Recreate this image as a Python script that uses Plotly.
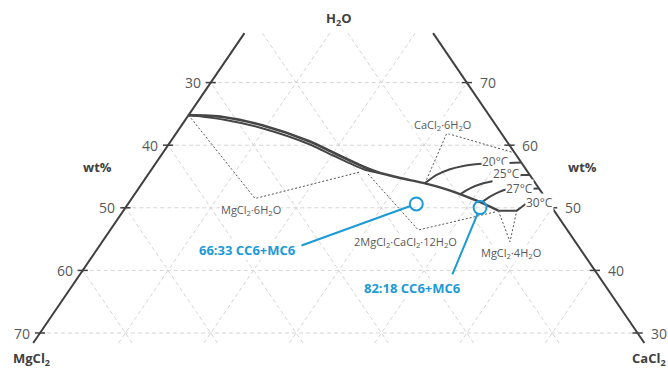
import plotly.graph_objects as go

# ---------------------------------------------------------------------------
# Phase diagram H2O - MgCl2 - CaCl2 (wt%).  Every point is a composition given
# as (H2O wt%, CaCl2 wt%); MgCl2 = 100 - H2O - CaCl2.
# ---------------------------------------------------------------------------
left_tick_values = [30, 40, 50, 60, 70]    # MgCl2 wt% along the MgCl2-H2O side
right_tick_values = [70, 60, 50, 40, 30]   # H2O wt% along the CaCl2-H2O side
grid_values = [10, 20, 30, 40, 50, 60]
h2o_window = [28.4, 77.9]                  # visible slice of the triangle

# MgCl2·6H2O saturation branch (two almost coincident isotherms)
mc6_upper_h2o = [64.8, 64.5, 63.15, 60.59, 58.83, 56.6, 55.56]
mc6_upper_cacl2 = [0.0, 4.19, 9.56, 16.33, 19.91, 24.54, 27.05]
mc6_lower_h2o = [64.8, 64.1, 62.67, 60.11, 58.35, 56.2, 55.56]
mc6_lower_cacl2 = [0.0, 4.39, 9.79, 16.58, 20.16, 24.74, 27.05]

# tachyhydrite branch down to the MgCl2·4H2O step
tach_h2o = [55.56, 54.76, 53.91, 53.11, 52.2, 51.13, 50.18, 49.54]
tach_cacl2 = [27.05, 29.8, 33.14, 35.69, 38.1, 40.59, 42.63, 43.92]
step_h2o = [49.54, 49.54, 50.13, 50.61]
step_cacl2 = [43.92, 46.08, 46.36, 46.58]

# CaCl2·6H2O isotherms: arc from the branch, then a short run to the CaCl2 side
iso_names = ["20°C", "25°C", "27°C", "30°C"]
iso_arc_h2o = [[53.91, 55.24, 56.15, 56.68, 57.0],
               [52.16, 53.11, 53.91, 54.33],
               [50.85, 51.77, 52.57, 52.95],
               []]
iso_arc_cacl2 = [[33.14, 33.85, 34.95, 36.25, 37.81],
                 [38.12, 38.82, 39.97, 41.13],
                 [41.33, 41.83, 42.6, 43.2],
                 []]
iso_tail_h2o = [57.24, 55.24, 53.08, None]
iso_tail_cacl2 = [41.44, 43.81, 46.16, None]
iso_label_h2o = [57.45, 55.42, 53.08, 50.85]
iso_label_cacl2 = [39.6, 41.97, 44.58, 48.04]

# dotted outlines of the crystallisation fields
field_outlines = [
    ([64.8, 51.48, 55.72], [0.0, 14.45, 24.63]),      # MgCl2·6H2O
    ([55.4, 46.45, 49.33], [25.73, 36.09, 43.64]),    # tachyhydrite
    ([53.91, 61.9, 58.75], [33.14, 31.7, 41.25]),     # CaCl2·6H2O
    ([49.54, 44.58, 49.54], [43.92, 47.77, 46.08]),   # MgCl2·4H2O
]
field_names = ["MgCl<sub>2</sub>·6H<sub>2</sub>O",
               "2MgCl<sub>2</sub>·CaCl<sub>2</sub>·12H<sub>2</sub>O",
               "CaCl<sub>2</sub>·6H<sub>2</sub>O",
               "MgCl<sub>2</sub>·4H<sub>2</sub>O"]
field_label_h2o = [49.65, 44.58, 63.23, 42.83]
field_label_cacl2 = [14.9, 35.47, 30.53, 48.71]

# CaCl2·6H2O (CC6) + MgCl2·6H2O (MC6) mixtures, mass ratio CC6:MC6
mix_names = ["66:33 CC6+MC6", "82:18 CC6+MC6"]
mix_cc6_fraction = [2 / 3, 0.82]
mix_label_h2o = [43.26, 37.14]
mix_label_cacl2 = [17.68, 40.07]
mix_leader_h2o = [43.9, 39.11]
mix_leader_cacl2 = [23.51, 43.68]

M_CACL2, M_MGCL2, M_H2O = 110.98, 95.21, 18.015
cc6_cacl2 = M_CACL2 / (M_CACL2 + 6 * M_H2O)
mc6_mgcl2 = M_MGCL2 / (M_MGCL2 + 6 * M_H2O)
mix_cacl2 = [100 * f * cc6_cacl2 for f in mix_cc6_fraction]
mix_mgcl2 = [100 * (1 - f) * mc6_mgcl2 for f in mix_cc6_fraction]
mix_h2o = [100 - c - m for c, m in zip(mix_cacl2, mix_mgcl2)]

# ---------------------------------------------------------------------------
FONT = "Open Sans"
EDGE = "#404040"
CURVE = "#464646"
GRID = "#d5d5d5"
TEXT = "#595959"
BLUE = "#1b9ad6"


def project(h2o, cacl2):
    """Ternary composition -> cartesian (x = CaCl2 + H2O/2, y = H2O)."""
    xs, ys = [], []
    for a, c in zip(h2o, cacl2):
        if a is None:
            xs.append(None)
            ys.append(None)
        else:
            xs.append(c + a / 2.0)
            ys.append(a)
    return xs, ys


fig = go.Figure()


def add_line(h2o, cacl2, color, width, dash="solid", shape="linear", smoothing=1.0):
    x, y = project(h2o, cacl2)
    fig.add_trace(go.Scatter(
        x=x, y=y, mode="lines", hoverinfo="skip", showlegend=False,
        line=dict(color=color, width=width, dash=dash, shape=shape, smoothing=smoothing),
    ))


lo, hi = h2o_window

# dashed grid: iso-H2O lines plus iso-CaCl2 / iso-MgCl2 lines
gh, gc = [], []
for m in left_tick_values:
    a = 100 - m
    gh += [a, a, None]
    gc += [0, 100 - a, None]
for k in grid_values:
    top = min(hi, 100 - k)
    gh += [lo, top, None]
    gc += [k, k, None]
    gh += [lo, top, None]
    gc += [100 - lo - k, 100 - top - k, None]
add_line(gh, gc, GRID, 1, dash="4px,3px")

# triangle sides
add_line([lo, hi], [0, 0], EDGE, 2)
add_line([lo, hi], [100 - lo, 100 - hi], EDGE, 2)

# tick marks
th, tc = [], []
for m in left_tick_values:
    a = 100 - m
    th += [a, a, None]
    tc += [-0.6, 0.6, None]
for h in right_tick_values:
    th += [h, h, None]
    tc += [100 - h - 0.6, 100 - h + 0.6, None]
add_line(th, tc, EDGE, 1.5)

# dotted field outlines
for fh, fc in field_outlines:
    add_line(fh, fc, "#555555", 1, dash="2px,2px")

# saturation curves
add_line(mc6_upper_h2o, mc6_upper_cacl2, CURVE, 2.6, shape="spline", smoothing=0.8)
add_line(mc6_lower_h2o, mc6_lower_cacl2, CURVE, 2.0, shape="spline", smoothing=0.8)
add_line(tach_h2o, tach_cacl2, CURVE, 2.4, shape="spline", smoothing=0.6)
add_line(step_h2o, step_cacl2, CURVE, 2.0)
for i in range(len(iso_names)):
    if iso_arc_h2o[i]:
        add_line(iso_arc_h2o[i], iso_arc_cacl2[i], CURVE, 2.0, shape="spline", smoothing=0.9)
    if iso_tail_h2o[i] is not None:
        end_h = iso_arc_h2o[i][-1]
        end_c = iso_arc_cacl2[i][-1]
        t_h = iso_tail_h2o[i]
        add_line([end_h, t_h, t_h], [end_c, iso_tail_cacl2[i], 100 - t_h], CURVE, 2.0)

# mixture points
mx, my = project(mix_h2o, mix_cacl2)
fig.add_trace(go.Scatter(
    x=mx, y=my, mode="markers", hoverinfo="skip", showlegend=False,
    marker=dict(symbol="circle-open", size=13, color=BLUE, line=dict(color=BLUE, width=2)),
))

# ---------------------------------------------------------------------------
annotations = []


def text_at(h2o, cacl2, text, size, color, bold=False, bg=None, **kw):
    x, y = project([h2o], [cacl2])
    opts = dict(xanchor="center", yanchor="middle")
    opts.update(kw)
    annotations.append(dict(
        x=x[0], y=y[0], xref="x", yref="y", showarrow=False,
        text=f"<b>{text}</b>" if bold else text,
        font=dict(family=FONT, size=size, color=color),
        bgcolor=bg, borderpad=0, **opts,
    ))


for m in left_tick_values:
    text_at(100 - m, 0, str(m), 14, TEXT, xanchor="right", xshift=-9)
for h in right_tick_values:
    text_at(h, 100 - h, str(h), 14, TEXT, xanchor="left", xshift=12)

for name, lh, lc in zip(field_names, field_label_h2o, field_label_cacl2):
    text_at(lh, lc, name, 11, TEXT, bg="white")
for name, lh, lc in zip(iso_names, iso_label_h2o, iso_label_cacl2):
    text_at(lh, lc, name, 12, TEXT, bg="white")

for i, name in enumerate(mix_names):
    text_at(mix_label_h2o[i], mix_label_cacl2[i], name, 13, BLUE, bold=True, bg="white")
    px, py = project([mix_h2o[i]], [mix_cacl2[i]])
    sx, sy = project([mix_leader_h2o[i]], [mix_leader_cacl2[i]])
    annotations.append(dict(
        x=px[0], y=py[0], xref="x", yref="y", ax=sx[0], ay=sy[0], axref="x", ayref="y",
        text="", showarrow=True, arrowhead=0, arrowwidth=2, arrowcolor=BLUE, standoff=7,
    ))

# corner and axis titles (paper coordinates)
W, H = 668, 369
for text, px, py in [("H<sub>2</sub>O", 339, 19), ("MgCl<sub>2</sub>", 31, 359),
                     ("CaCl<sub>2</sub>", 649, 359), ("wt%", 97, 167), ("wt%", 582, 167)]:
    annotations.append(dict(
        x=px / W, y=1 - py / H, xref="paper", yref="paper", showarrow=False,
        xanchor="center", yanchor="middle",
        text=f"<b>{text}</b>", font=dict(family=FONT, size=13, color=EDGE),
    ))

X0, X1 = 10.31, 88.57
Y0, Y1 = 24.25, 83.19
fig.update_layout(
    width=W, height=H, margin=dict(l=0, r=0, t=0, b=0),
    paper_bgcolor="white", plot_bgcolor="white",
    xaxis=dict(range=[X0, X1], visible=False, fixedrange=True),
    yaxis=dict(range=[Y0, Y1], visible=False, fixedrange=True),
    annotations=annotations, showlegend=False,
)

fig.write_html("out.html")
